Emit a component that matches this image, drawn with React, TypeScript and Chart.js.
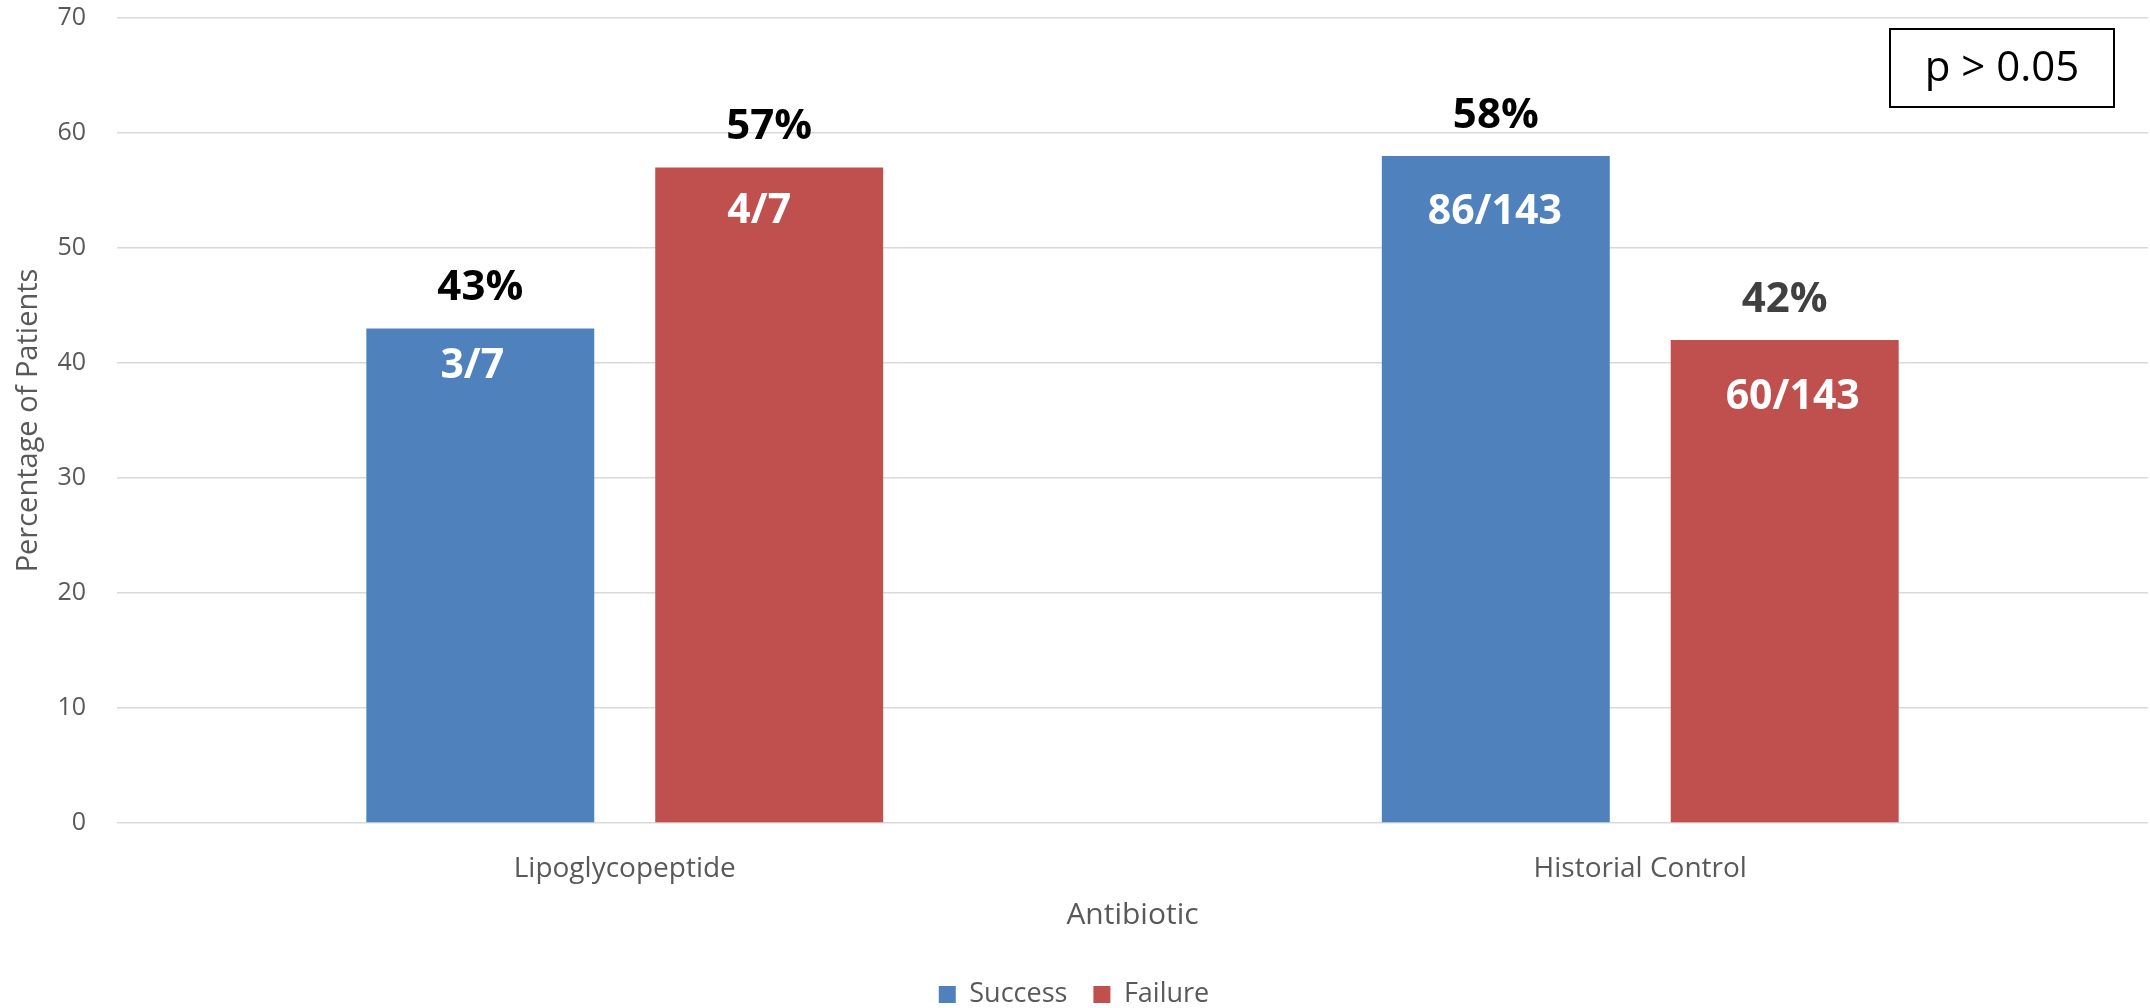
import React, { useEffect, useRef } from "react";
import { Chart, registerables } from "chart.js";

Chart.register(...registerables);

// Chart data
const categories = ["Lipoglycopeptide", "Historial Control"];
const seriesNames = ["Success", "Failure"];
const successPct = [43, 58];
const failurePct = [57, 42];
const successCounts = ["3/7", "86/143"];
const failureCounts = ["4/7", "60/143"];
const yTicks = [0, 10, 20, 30, 40, 50, 60, 70];
const pValueText = "p > 0.05";

// Styling
const FONT = "'Open Sans', 'Noto Sans', sans-serif";
const BLUE = "#4F81BD";
const RED = "#C0504D";
const pctColors = [
  ["#000000", "#000000"],
  ["#000000", "#404040"],
];
// offsets [dx, dy] of the count labels inside each bar, from the bar top
const countOffsets = [
  [[-8, 38], [-1, 56]],
  [[-10, 44], [8, 57]],
];

const W = 2150;
const H = 1018;

const labelsPlugin = {
  id: "barLabels",
  afterDatasetsDraw(chart: any) {
    const ctx = chart.ctx;
    const counts = [successCounts, failureCounts];
    chart.data.datasets.forEach((ds: any, di: number) => {
      const meta = chart.getDatasetMeta(di);
      meta.data.forEach((bar: any, i: number) => {
        const v = ds.data[i];
        ctx.save();
        ctx.textAlign = "center";
        ctx.textBaseline = "middle";
        ctx.font = `bold 42px ${FONT}`;
        ctx.fillStyle = pctColors[di][i];
        ctx.fillText(`${v}%`, bar.x, bar.y - 40);
        ctx.font = `bold 41px ${FONT}`;
        ctx.fillStyle = "#FFFFFF";
        const [dx, dy] = countOffsets[di][i];
        ctx.fillText(counts[di][i], bar.x + dx, bar.y + dy);
        ctx.restore();
      });
    });

    // significance box in the top-right corner of the plot
    const area = chart.chartArea;
    const bw = 224;
    const bh = 78;
    const bx = area.right - 34 - bw;
    const by = area.top + 11;
    ctx.save();
    ctx.fillStyle = "#FFFFFF";
    ctx.fillRect(bx, by, bw, bh);
    ctx.strokeStyle = "#000000";
    ctx.lineWidth = 2;
    ctx.strokeRect(bx, by, bw, bh);
    ctx.fillStyle = "#000000";
    ctx.font = `42px ${FONT}`;
    ctx.textAlign = "center";
    ctx.textBaseline = "middle";
    ctx.fillText(pValueText, bx + bw / 2, by + bh / 2 + 1);
    ctx.restore();
  },
};

export default function App() {
  const canvasRef = useRef<HTMLCanvasElement | null>(null);

  useEffect(() => {
    if (!canvasRef.current) return;
    Chart.defaults.font.family = FONT;
    const chart = new Chart(canvasRef.current, {
      type: "bar",
      data: {
        labels: categories,
        datasets: [
          {
            label: seriesNames[0],
            data: successPct,
            backgroundColor: BLUE,
            borderWidth: 0,
            categoryPercentage: 0.569,
            barPercentage: 0.789,
          },
          {
            label: seriesNames[1],
            data: failurePct,
            backgroundColor: RED,
            borderWidth: 0,
            categoryPercentage: 0.569,
            barPercentage: 0.789,
          },
        ],
      },
      options: {
        responsive: false,
        animation: false,
        devicePixelRatio: 1,
        layout: { padding: { top: 18, right: 2, left: 0, bottom: 0 } },
        plugins: {
          legend: {
            display: true,
            position: "bottom",
            labels: {
              boxWidth: 17,
              boxHeight: 17,
              padding: 26,
              color: "#595959",
              font: { size: 27, family: FONT },
            },
          },
          tooltip: { enabled: false },
          title: { display: false },
        },
        scales: {
          x: {
            grid: { display: false },
            border: { display: false },
            ticks: {
              color: "#595959",
              font: { size: 28, family: FONT },
              padding: 21,
            },
            title: {
              display: true,
              text: "Antibiotic",
              color: "#595959",
              font: { size: 30, family: FONT },
              padding: { top: 0, bottom: 22 },
            },
            afterFit: (scale: any) => {
              scale.height = 132;
            },
          },
          y: {
            min: 0,
            max: 70,
            afterBuildTicks: (scale: any) => {
              scale.ticks = yTicks.map((v) => ({ value: v }));
            },
            grid: {
              color: "#D9D9D9",
              lineWidth: 1.5,
              drawTicks: false,
            },
            border: { display: false },
            ticks: {
              color: "#595959",
              font: { size: 25, family: FONT },
              padding: 31,
            },
            title: {
              display: true,
              text: "Percentage of Patients",
              color: "#595959",
              font: { size: 29, family: FONT },
              padding: { top: 11, bottom: 0 },
            },
            afterFit: (scale: any) => {
              scale.width = 117;
              // the top tick label fits inside the layout padding
              scale.paddingTop = 0;
              scale.paddingBottom = 0;
            },
          },
        },
      },
      plugins: [labelsPlugin],
    });
    return () => chart.destroy();
  }, []);

  return (
    <div
      style={{
        position: "fixed",
        left: 0,
        top: 0,
        width: W,
        height: 1008,
        overflow: "hidden",
        background: "#FFFFFF",
      }}
    >
      <canvas
        ref={canvasRef}
        width={W}
        height={H}
        style={{ display: "block", width: W, height: H }}
      />
    </div>
  );
}
